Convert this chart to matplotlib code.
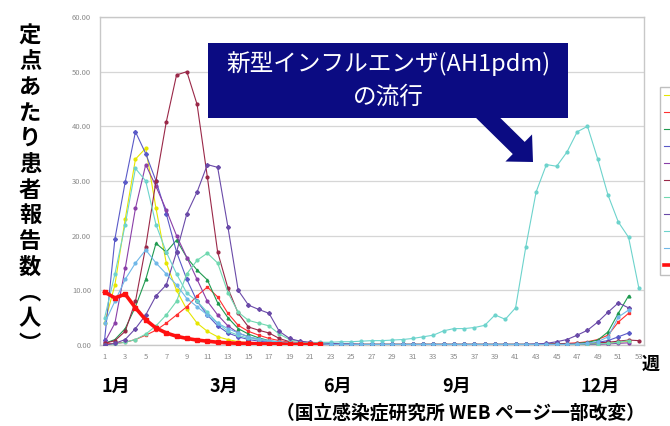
import numpy as np
import matplotlib.pyplot as plt
import matplotlib.patches as mpatches
import matplotlib.transforms as mtransforms

plt.rcParams['font.family'] = ['Noto Sans CJK JP', 'DejaVu Sans']

weeks = list(range(1, 54))
week_ticks = list(range(1, 54, 2))
y_ticks = [0, 10, 20, 30, 40, 50, 60]
month_labels = ['1月', '3月', '6月', '9月', '12月']
month_pos = [2.1, 12.6, 23.7, 35.3, 49.2]

# one season per line (weeks 1-53), None = no report
s_yellow = [4, 11, 23, 34, 36, 25, 15, 10, 6.5, 4,
            2.5, 1.5, 1, 0.6, 0.4, 0.3, 0.2, 0.1, 0.1, 0.1,
            0.1, 0.1, 0.1, 0.1, 0.1, 0.1, 0.1, 0.1, 0.1, 0.1,
            0.1, 0.1, 0.1, 0.1, 0.1, 0.1, 0.1, 0.1, 0.1, 0.1,
            0.1, 0.1, 0.1, 0.1, 0.1, 0.1, 0.2, 0.2, 0.3, 0.4,
            0.5, 0.7, None]
s_red = [0.2, 0.3, 0.5, 1, 1.8, 2.7, 4, 5.5, 7, 9,
         10.6, 8.8, 5.8, 3.6, 2.5, 1.8, 1.2, 0.8, 0.5, 0.3,
         0.2, 0.2, 0.1, 0.1, 0.1, 0.1, 0.1, 0.1, 0.1, 0.1,
         0.1, 0.1, 0.1, 0.1, 0.1, 0.1, 0.1, 0.1, 0.1, 0.1,
         0.1, 0.1, 0.1, 0.2, 0.2, 0.3, 0.4, 0.6, 1.0, 1.8,
         4.2, 5.8, None]
s_green = [0.3, 1, 3, 7, 12, 18.6, 17, 19.2, 16, 13.7,
           11.9, 7.7, 5, 3, 2, 1.3, 0.8, 0.5, 0.3, 0.2,
           0.1, 0.1, 0.1, 0.1, 0.1, 0.1, 0.1, 0.1, 0.1, 0.1,
           0.1, 0.1, 0.1, 0.1, 0.1, 0.1, 0.1, 0.1, 0.1, 0.1,
           0.1, 0.1, 0.1, 0.1, 0.2, 0.2, 0.3, 0.5, 0.9, 2.4,
           5.8, 9, None]
s_blue = [1, 19.4, 29.8, 39, 35, 30, 24, 17, 12, 8,
          5.5, 3.5, 2.2, 1.5, 1, 0.7, 0.5, 0.3, 0.2, 0.2,
          0.1, 0.1, 0.1, 0.1, 0.1, 0.1, 0.1, 0.1, 0.1, 0.1,
          0.1, 0.1, 0.1, 0.1, 0.1, 0.1, 0.1, 0.1, 0.1, 0.1,
          0.1, 0.1, 0.1, 0.1, 0.1, 0.2, 0.2, 0.3, 0.5, 0.8,
          1.5, 2.2, None]
s_purple = [0.5, 4, 14, 25, 33, 29, 24.7, 20, 16, 12,
            8, 5.5, 3.5, 2.2, 1.5, 1, 0.6, 0.4, 0.3, 0.2,
            0.1, 0.1, 0.1, 0.1, 0.1, 0.1, 0.1, 0.1, 0.1, 0.1,
            0.1, 0.1, 0.1, 0.1, 0.1, 0.1, 0.1, 0.1, 0.1, 0.1,
            0.1, 0.1, 0.1, 0.1, 0.1, 0.1, 0.1, 0.1, 0.1, 0.2,
            0.3, 0.4, None]
s_maroon = [0.3, 0.8, 2.5, 8, 18, 30, 40.8, 49.4, 50, 44,
            30.7, 17, 10.4, 5.8, 3.3, 2.7, 2.2, 1.2, 0.6, 0.4,
            0.3, 0.2, 0.2, 0.1, 0.1, 0.1, 0.1, 0.1, 0.1, 0.1,
            0.1, 0.1, 0.1, 0.1, 0.1, 0.1, 0.1, 0.1, 0.1, 0.1,
            0.1, 0.1, 0.1, 0.1, 0.2, 0.2, 0.3, 0.3, 0.4, 0.5,
            0.7, 0.9, 0.8]
s_lightgreen = [0, 0.2, 0.5, 1, 2, 3.5, 5.5, 8, 13, 15.5,
                16.8, 15, 9.6, 6, 4.5, 4, 3.5, 2, 1, 0.6,
                0.4, 0.3, 0.2, 0.2, 0.1, 0.1, 0.1, 0.1, 0.1, 0.1,
                0.1, 0.1, 0.1, 0.1, 0.1, 0.1, 0.1, 0.1, 0.1, 0.1,
                0.1, 0.1, 0.1, 0.1, 0.1, 0.1, 0.1, 0.2, 0.2, 0.3,
                0.5, 0.8, None]
s_violet = [0, 0.3, 1, 3, 5.5, 9, 11, 17, 24, 28,
            33, 32.5, 21.6, 10, 7.3, 6.5, 5.8, 2.5, 1.2, 0.7,
            0.5, 0.4, 0.3, 0.2, 0.2, 0.1, 0.1, 0.1, 0.1, 0.1,
            0.1, 0.1, 0.1, 0.1, 0.1, 0.1, 0.1, 0.1, 0.1, 0.1,
            0.1, 0.1, 0.2, 0.3, 0.6, 1, 1.8, 2.7, 4.2, 6,
            7.7, 6.8, None]
s_teal = [5, 13, 22, 32.3, 30, 22, 17, 13, 9.5, 8,
          6, 4, 2.5, 1.8, 1.2, 1, 0.7, 0.5, 0.4, 0.4,
          0.4, 0.5, 0.5, 0.6, 0.6, 0.7, 0.8, 0.8, 0.9, 1.0,
          1.2, 1.5, 1.8, 2.6, 3, 3, 3.2, 3.6, 5.5, 4.7,
          6.8, 18, 28, 33, 32.7, 35.3, 39, 40, 34, 27.4,
          22.5, 19.7, 10.4]
s_lightblue = [4, 8, 12, 15, 17.4, 15, 13, 11, 8.5, 7,
               5.5, 4, 3, 2.2, 1.5, 1.1, 0.8, 0.6, 0.4, 0.3,
               0.2, 0.2, 0.1, 0.1, 0.1, 0.1, 0.1, 0.1, 0.1, 0.1,
               0.1, 0.1, 0.1, 0.1, 0.1, 0.1, 0.1, 0.1, 0.1, 0.1,
               0.1, 0.1, 0.1, 0.1, 0.1, 0.1, 0.2, 0.3, 0.6, 1.5,
               5.1, 6.4, None]
s_latest = [9.7, 8.6, 9.3, 6.8, 4.6, 3.1, 2.2, 1.6, 1.2, 0.9,
            0.7, 0.5, 0.4, 0.3, 0.3, 0.2, 0.2, 0.2, 0.1, 0.1,
            0.1, 0.1, None, None, None, None, None, None, None, None,
            None, None, None, None, None, None, None, None, None, None,
            None, None, None, None, None, None, None, None, None, None,
            None, None, None]

series = [s_yellow, s_red, s_green, s_blue, s_purple, s_maroon,
          s_lightgreen, s_violet, s_teal, s_lightblue, s_latest]
colors = ['#e6e600', '#ff3030', '#1f9a50', '#5a5ac8', '#8a3fa8', '#9a2848',
          '#70d8b0', '#6a4aa8', '#6dd3cc', '#70b8e8', '#ff1010']
markers = ['o', 's', '^', 'D', 'o', 'o', 'o', 'D', 'o', 'o', 's']

fig = plt.figure(figsize=(6.7, 4.26), dpi=100)
ax = fig.add_axes([99.5 / 670, 1 - 345 / 426, 544.5 / 670, 328 / 426])

handles = []
for vals, c, m in zip(series, colors, markers):
    y = np.array(vals, dtype=float)
    if c == '#ff1010':
        h, = ax.plot(weeks, y, color=c, lw=2.6, marker=m, ms=3.5, zorder=4)
    else:
        h, = ax.plot(weeks, y, color=c, lw=0.8, marker=m, ms=2.0, zorder=3)
    handles.append(h)

ax.set_xlim(0.5, 53.5)
ax.set_ylim(0, 60)
ax.set_xticks(week_ticks)
ax.set_xticklabels([str(w) for w in week_ticks])
ax.set_yticks(y_ticks)
ax.set_yticklabels(['%.2f' % v for v in y_ticks])
ax.tick_params(length=0, labelsize=5.5, labelcolor='#8a8a8a', pad=6)
ax.grid(axis='y', color='#d6d6d6', lw=0.9)
ax.set_axisbelow(True)
for sp in ax.spines.values():
    sp.set_color('#c8c8c8')
    sp.set_linewidth(1.0)

# legend is cut off by the right edge in the original
fig.legend(handles, [' '] * len(handles), loc='upper left',
           bbox_to_anchor=(655 / 670, 1 - 82 / 426), fontsize=7,
           handlelength=2.6, labelspacing=0.72, frameon=True,
           fancybox=False, edgecolor='#b0b0b0')

# vertical y label
ylab = '\n'.join(list('定点あたり患者報告数') + ['︵', '人', '︶'])
fig.text(30 / 670, 1 - 190 / 426, ylab, ha='center', va='center',
         fontsize=16, fontweight='bold', linespacing=1.15)

# month labels under week ticks
for lab, pos in zip(month_labels, month_pos):
    ax.text(pos, -0.125, lab, transform=ax.get_xaxis_transform(),
            ha='center', va='center', fontsize=13, fontweight='bold')
fig.text(651 / 670, 1 - 364 / 426, '週', ha='center', va='center',
         fontsize=13, fontweight='bold')
fig.text(460 / 670, 1 - 413 / 426, '（国立感染症研究所 WEB ページ一部改変）',
         ha='center', va='center', fontsize=13.5, fontweight='bold')

# navy call-out box + arrow
box = mpatches.Rectangle((208 / 670, 1 - 118 / 426), 360 / 670, 75 / 426,
                         transform=fig.transFigure, facecolor='#0b0b82',
                         edgecolor='none', zorder=5)
fig.patches.append(box)
fig.text(388 / 670, 1 - 64 / 426, '新型インフルエンザ(AH1pdm)', color='white',
         ha='center', va='center', fontsize=17, zorder=6)
fig.text(388 / 670, 1 - 97 / 426, 'の流行', color='white',
         ha='center', va='center', fontsize=17, zorder=6)
arrow = mpatches.FancyArrow(474, 426 - 104, 59, -58, width=17, head_width=38,
                            head_length=20, length_includes_head=True,
                            transform=mtransforms.IdentityTransform(),
                            facecolor='#0b0b82', edgecolor='none', zorder=5)
fig.patches.append(arrow)

plt.savefig('out.png', dpi=100)
